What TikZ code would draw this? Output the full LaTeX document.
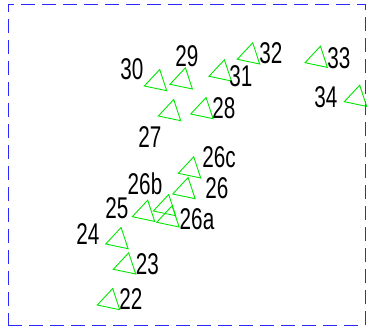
\documentclass[tikz,border=0pt]{standalone}
\usepackage{fontspec}
\setmainfont{Liberation Sans}
\begin{document}
\begin{tikzpicture}[x=1pt,y=-1pt,
  tri/.style={draw={rgb,255:red,0;green,230;blue,0},line width=0.9pt,line join=miter},
  lbl/.style={inner sep=0pt,font=\fontsize{30}{30}\selectfont,xscale=0.69},
  frame/.style={draw={rgb,255:red,40;green,40;blue,255},line width=1pt,dash pattern=on 14pt off 7pt}]
\useasboundingbox (0,0) rectangle (370,331);
\node[frame,inner sep=0pt,minimum width=357pt,minimum height=321pt,anchor=north west] (border) at (7.5,4) {};
\tikzset{pics/triangle/.style={code={\draw[tri] (0,0) -- (15.4,-16.5) -- (22.4,4.7) -- cycle;}}}
% triangles (left vertex)
\foreach \n/\px/\py in {22/97.3/305, 23/113.3/269.3, 24/105.7/244, 25/132.3/216.7,
  26a/156.7/222.3, 26b/153.3/211, 26/172.7/194, 26c/178.3/173.3, 27/158.3/116,
  28/190.7/114, 29/170/84.3, 30/144.3/86, 31/209/76.3, 32/237.3/59.3,
  33/305/62.7, 34/344.3/101.7}{
  \coordinate (t\n) at (\px,\py);
  \pic at (t\n) {triangle};
}
% labels
\node[lbl] (l22) at (131,299) {22};
\node[lbl] (l23) at (147.5,264) {23};
\node[lbl] (l24) at (88,234) {24};
\node[lbl] (l25) at (117,208) {25};
\node[lbl] (l26a) at (197,219) {26a};
\node[lbl] (l26b) at (145,184) {26b};
\node[lbl] (l26) at (217,188) {26};
\node[lbl] (l26c) at (219,157.5) {26c};
\node[lbl] (l27) at (150,137) {27};
\node[lbl] (l28) at (224,108) {28};
\node[lbl] (l29) at (187,56) {29};
\node[lbl] (l30) at (132,69) {30};
\node[lbl] (l31) at (241,76) {31};
\node[lbl] (l32) at (271,53) {32};
\node[lbl] (l33) at (339,58) {33};
\node[lbl] (l34) at (326,97.5) {34};
\end{tikzpicture}
\end{document}
